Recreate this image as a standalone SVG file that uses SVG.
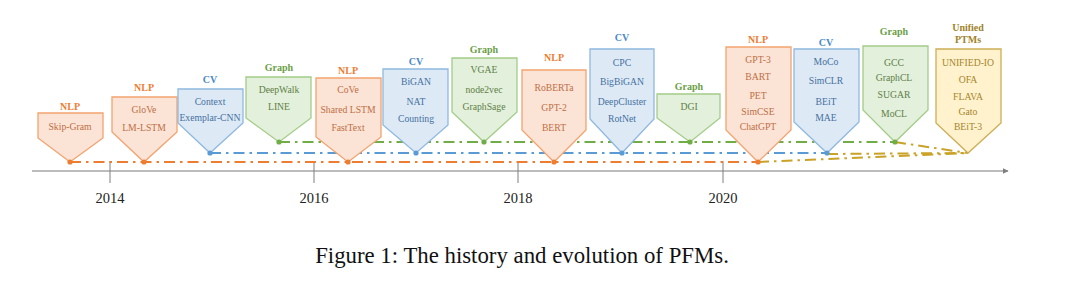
<svg xmlns="http://www.w3.org/2000/svg" width="1080" height="283" viewBox="0 0 1080 283">
<defs>
<style>
text{font-family:"Liberation Serif","Times New Roman",serif;text-anchor:middle}
.lbl{font-size:10px;font-weight:bold}
.t{font-size:9.7px}
.nlp polygon{fill:#FBE4D6;stroke:#F3A26F;stroke-width:1.3}
.cv polygon{fill:#DDEAF6;stroke:#8FB8E0;stroke-width:1.3}
.gr polygon{fill:#E3F0DB;stroke:#A3CC88;stroke-width:1.3}
.un polygon{fill:#FFF2CC;stroke:#CDAE55;stroke-width:1.3}
.nlp .lbl{fill:#ED7D31}.nlp .t{fill:#BE6E45}
.cv .lbl{fill:#4A88C9}.cv .t{fill:#46709F}
.gr .lbl{fill:#6A9E46}.gr .t{fill:#5E8049}
.un .lbl{fill:#A0832A}.un .t{fill:#A5852E}
.nlp circle{fill:#ED7D31}.cv circle{fill:#5B9BD5}.gr circle{fill:#70AD47}
.dl{fill:none;stroke-width:2;stroke-dasharray:11 5 2.5 5}
.yr{font-size:14.5px;fill:#222}
</style>
<marker id="ah" viewBox="0 0 10 10" refX="9" refY="5" markerWidth="6" markerHeight="6" orient="auto" markerUnits="userSpaceOnUse">
<path d="M0,0 L10,5 L0,10 z" fill="#7F7F7F"/>
</marker>
</defs>
<rect width="1080" height="283" fill="#fff"/>
<g id="axis">
<line x1="32" y1="171" x2="1008" y2="171" stroke="#A6A6A6" stroke-width="1.5" marker-end="url(#ah)"/>
<g stroke="#7F7F7F" stroke-width="1">
<line x1="110" y1="161" x2="110" y2="183"/>
<line x1="314" y1="161" x2="314" y2="183"/>
<line x1="518" y1="161" x2="518" y2="183"/>
<line x1="723" y1="161" x2="723" y2="183"/>
</g>
<text class="yr" x="110" y="203">2014</text>
<text class="yr" x="314" y="203">2016</text>
<text class="yr" x="518" y="203">2018</text>
<text class="yr" x="723" y="203">2020</text>
</g>
<g id="connectors">
<line class="dl" x1="70" y1="162" x2="758" y2="162" stroke="#ED7D31"/>
<line class="dl" x1="210" y1="153" x2="827" y2="153" stroke="#5B9BD5"/>
<line class="dl" x1="279" y1="142" x2="895" y2="142" stroke="#70AD47"/>
<line class="dl" x1="758" y1="162" x2="968" y2="153" stroke="#C9A227"/>
<line class="dl" x1="827" y1="154" x2="968" y2="153" stroke="#C9A227"/>
<line class="dl" x1="895" y1="142" x2="968" y2="153" stroke="#C9A227"/>
</g>
<g id="n1" class="nlp">
<polygon points="38,113 103,113 103,138 70,162 38,138"/>
<circle cx="70" cy="162" r="2.6"/>
<text class="lbl" x="70" y="110">NLP</text>
<text class="t" x="70" y="129.5">Skip-Gram</text>
</g>
<g id="n2" class="nlp">
<polygon points="112,97 177,97 177,132 144,162 112,132"/>
<circle cx="144" cy="162" r="2.6"/>
<text class="lbl" x="144" y="91">NLP</text>
<text class="t" x="144" y="112.5">GloVe</text>
<text class="t" x="144" y="130.5">LM-LSTM</text>
</g>
<g id="n3" class="cv">
<polygon points="178,89 243,89 243,123 210,153 178,123"/>
<circle cx="210" cy="153" r="2.6"/>
<text class="lbl" x="210" y="83">CV</text>
<text class="t" x="210" y="104.5">Context</text>
<text class="t" x="210" y="120.5">Exemplar-CNN</text>
</g>
<g id="n4" class="gr">
<polygon points="246,77 311,77 311,118 279,142 246,118"/>
<circle cx="279" cy="142" r="2.6"/>
<text class="lbl" x="279" y="71">Graph</text>
<text class="t" x="279" y="92.5">DeepWalk</text>
<text class="t" x="279" y="109.5">LINE</text>
</g>
<g id="n5" class="nlp">
<polygon points="316,78 381,78 381,137 348,162 316,137"/>
<circle cx="348" cy="162" r="2.6"/>
<text class="lbl" x="348" y="74">NLP</text>
<text class="t" x="348" y="92.5">CoVe</text>
<text class="t" x="348" y="112.5">Shared LSTM</text>
<text class="t" x="348" y="130.5">FastText</text>
</g>
<g id="n6" class="cv">
<polygon points="383,69 448,69 448,125 416,153 383,125"/>
<circle cx="416" cy="153" r="2.6"/>
<text class="lbl" x="416" y="65">CV</text>
<text class="t" x="416" y="84.5">BiGAN</text>
<text class="t" x="416" y="104.5">NAT</text>
<text class="t" x="416" y="121.5">Counting</text>
</g>
<g id="n7" class="gr">
<polygon points="452,58 517,58 517,112 484,142 452,112"/>
<circle cx="484" cy="142" r="2.6"/>
<text class="lbl" x="484" y="53">Graph</text>
<text class="t" x="484" y="72.5">VGAE</text>
<text class="t" x="484" y="92.5">node2vec</text>
<text class="t" x="484" y="109.5">GraphSage</text>
</g>
<g id="n8" class="nlp">
<polygon points="522,70 586,70 586,130 554,162 522,130"/>
<circle cx="554" cy="162" r="2.6"/>
<text class="lbl" x="554" y="61">NLP</text>
<text class="t" x="554" y="90.5">RoBERTa</text>
<text class="t" x="554" y="110.5">GPT-2</text>
<text class="t" x="554" y="130.5">BERT</text>
</g>
<g id="n9" class="cv">
<polygon points="590,49 654,49 654,119 622,153 590,119"/>
<circle cx="622" cy="153" r="2.6"/>
<text class="lbl" x="622" y="41">CV</text>
<text class="t" x="622" y="65.5">CPC</text>
<text class="t" x="622" y="84.5">BigBiGAN</text>
<text class="t" x="622" y="104.5">DeepCluster</text>
<text class="t" x="622" y="121.5">RotNet</text>
</g>
<g id="n10" class="gr">
<polygon points="657,94 720,94 720,118 690,142 657,118"/>
<circle cx="690" cy="142" r="2.6"/>
<text class="lbl" x="689" y="90">Graph</text>
<text class="t" x="689" y="109.5">DGI</text>
</g>
<g id="n11" class="nlp">
<polygon points="726,47 791,47 791,130 758,162 726,130"/>
<circle cx="758" cy="162" r="2.6"/>
<text class="lbl" x="758" y="43">NLP</text>
<text class="t" x="758" y="62.5">GPT-3</text>
<text class="t" x="758" y="79.5">BART</text>
<text class="t" x="758" y="98.5">PET</text>
<text class="t" x="758" y="114.5">SimCSE</text>
<text class="t" x="758" y="129.5">ChatGPT</text>
</g>
<g id="n12" class="cv">
<polygon points="794,49 859,49 859,122 827,153 794,122"/>
<circle cx="827" cy="153" r="2.6"/>
<text class="lbl" x="826" y="46">CV</text>
<text class="t" x="826" y="64.5">MoCo</text>
<text class="t" x="826" y="83.5">SimCLR</text>
<text class="t" x="826" y="104.5">BEiT</text>
<text class="t" x="826" y="120.5">MAE</text>
</g>
<g id="n13" class="gr">
<polygon points="863,46 928,46 928,110 895,142 863,110"/>
<circle cx="895" cy="142" r="2.6"/>
<text class="lbl" x="894" y="35">Graph</text>
<text class="t" x="894" y="65.5">GCC</text>
<text class="t" x="894" y="80.5">GraphCL</text>
<text class="t" x="894" y="97.5">SUGAR</text>
<text class="t" x="894" y="116.5">MoCL</text>
</g>
<g id="n14" class="un">
<polygon points="936,49 1001,49 1001,123 968,153 936,123"/>
<text class="lbl" x="968" y="31">Unified</text>
<text class="lbl" x="968" y="43">PTMs</text>
<text class="t" x="968" y="65.5">UNIFIED-IO</text>
<text class="t" x="968" y="82.5">OFA</text>
<text class="t" x="968" y="99.5">FLAVA</text>
<text class="t" x="968" y="114.5">Gato</text>
<text class="t" x="968" y="129.5">BEiT-3</text>
</g>
<text x="522" y="263" font-size="22.8" fill="#111">Figure 1: The history and evolution of PFMs.</text>
</svg>
